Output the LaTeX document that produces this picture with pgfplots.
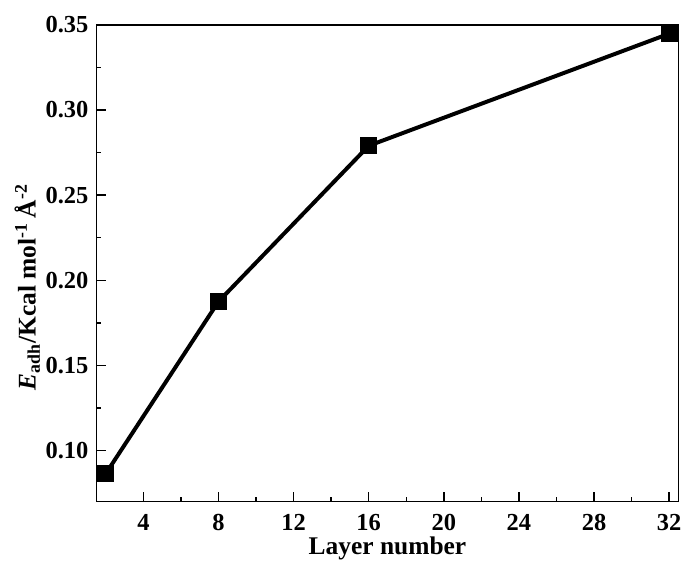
\documentclass[border=0pt]{standalone}
\usepackage{fontspec}
\setmainfont{Liberation Serif}
\usepackage{pgfplots}
\pgfplotsset{compat=1.18}

\begin{document}
\begin{tikzpicture}
\begin{axis}[
    scale only axis,
    width=293pt, height=240pt,
    xmin=1.5, xmax=32.5,
    ymin=0.07, ymax=0.35,
    xtick={4,8,...,32},
    ytick={0.10,0.15,...,0.35},
    minor x tick num=1,
    minor y tick num=1,
    tick pos=left,
    tick align=inside,
    major tick length=5pt,
    minor tick length=2.5pt,
    axis line style={line width=0.75pt},
    every tick/.style={black, line width=0.75pt},
    tick label style={font=\fontsize{12.3}{14}\selectfont\bfseries},
    /pgf/number format/assume math mode=true,
    y tick label style={xshift=-0.5pt, /pgf/number format/.cd, fixed, fixed zerofill, precision=2},
    x tick label style={yshift=-3pt},
    xlabel={\textbf{Layer number}},
    ylabel={\textbf{\textit{E}\textsubscript{adh}/Kcal mol\textsuperscript{-1}\,Å\textsuperscript{-2}}},
    label style={font=\fontsize{12.8}{15}\selectfont},
    xlabel style={yshift=4pt},
    ylabel style={yshift=-4pt, xshift=-12pt},
]
\addplot[black, line width=2pt, mark=square*, mark size=3.2pt, mark options={solid}]
coordinates {(2,0.0865) (8,0.1875) (16,0.279) (32,0.3448)};
\end{axis}
\path ([xshift=-4pt]current bounding box.west);
\path ([yshift=5pt]current bounding box.north);
\end{tikzpicture}
\end{document}
